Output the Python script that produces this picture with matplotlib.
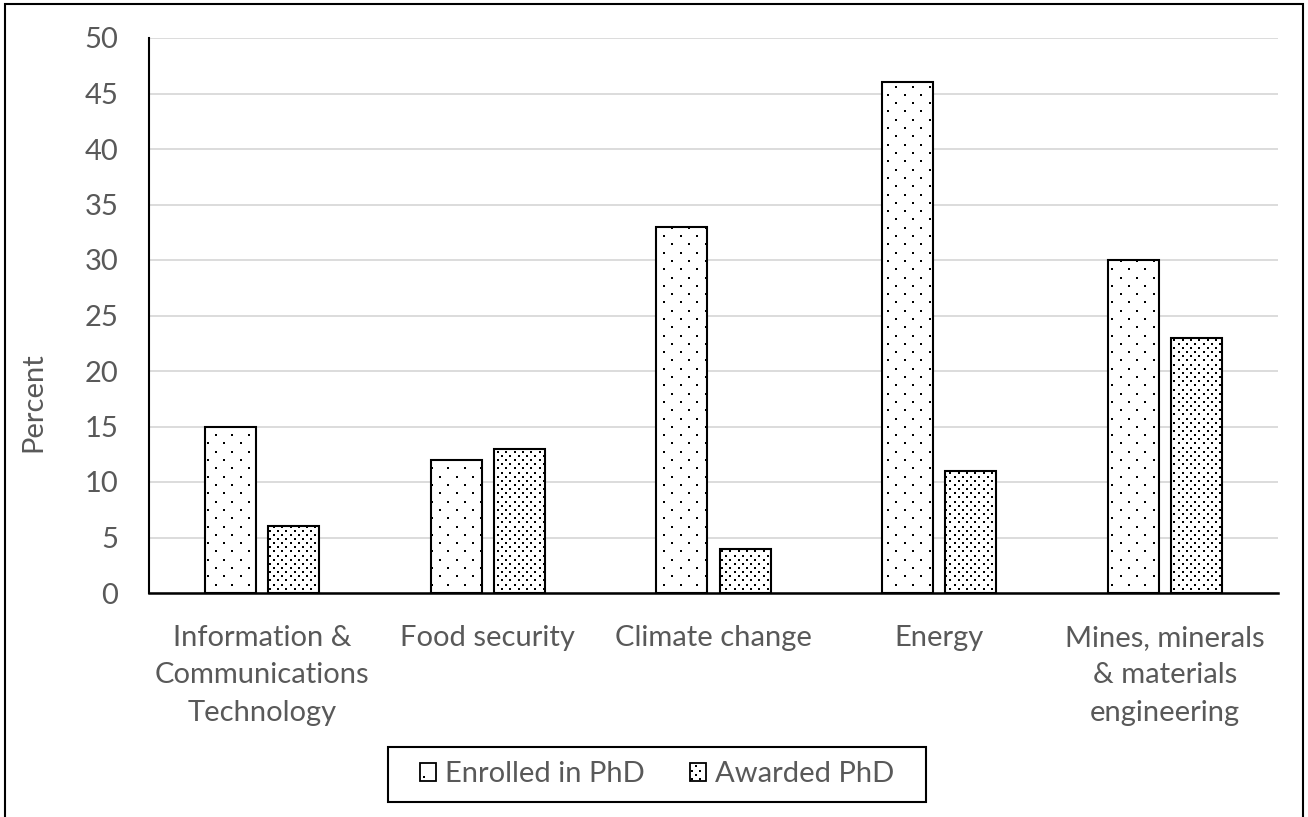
import matplotlib
matplotlib.use("Agg")
import matplotlib.pyplot as plt
import numpy as np
from matplotlib.patches import Rectangle
from matplotlib.lines import Line2D
from matplotlib.legend_handler import HandlerBase

categories = ["Information &\nCommunications\nTechnology", "Food security",
              "Climate change", "Energy", "Mines, minerals\n& materials\nengineering"]
enrolled = [15, 12, 33, 46, 30]
awarded = [6, 13, 4, 11, 23]
series_names = ["Enrolled in PhD", "Awarded PhD"]
y_ticks = [0, 5, 10, 15, 20, 25, 30, 35, 40, 45, 50]

plt.rcParams['font.family'] = ['Lato', 'DejaVu Sans']
text_color = "#595959"
FS = 21

W, H, DPI = 13.08, 8.17, 100
fig = plt.figure(figsize=(W, H), dpi=DPI)


def fx(px):
    return px / (W * DPI)


def fy(py):
    return 1 - py / (H * DPI)


def stagger_grid(width, height, step, x0=0.0, y0=0.0):
    """Staggered dot positions: rows step/2 apart, dots step apart within a row."""
    dx, dy = step, step / 2
    xs, ys = [], []
    for k, yy in enumerate(np.arange(y0, y0 + height + 1e-9, dy)):
        cols = np.arange(x0 + (k % 2) * dx / 2, x0 + width + 1e-9, dx)
        xs.append(cols)
        ys.append(np.full_like(cols, yy))
    return np.concatenate(xs), np.concatenate(ys)


ax = fig.add_axes([fx(149), fy(593), fx(1278 - 149), (593 - 38) / (H * DPI)])

x = np.arange(len(categories))
width = 0.226
offset = 0.14
b1 = ax.bar(x - offset, enrolled, width, facecolor="white", edgecolor="black",
            linewidth=1.5, zorder=3)
b2 = ax.bar(x + offset, awarded, width, facecolor="white", edgecolor="black",
            linewidth=1.5, zorder=3)

STEP_ENROLLED, STEP_AWARDED = 16.6, 8.3   # dot spacing in pixels


def dot_fill(bars, step):
    xs, ys = stagger_grid(W * DPI, H * DPI, step)
    for bar in bars:
        ln, = ax.plot(xs / DPI, ys / DPI, ls="none", marker="s", ms=1.45, mew=0,
                      color="black", transform=fig.dpi_scale_trans, zorder=3.2)
        ln.set_clip_path(bar)


dot_fill(b1, STEP_ENROLLED)
dot_fill(b2, STEP_AWARDED)

ax.set_xlim(-0.5, len(categories) - 0.5)
ax.set_ylim(0, 50)
ax.set_yticks(y_ticks)
ax.yaxis.grid(True, color="#d9d9d9", linewidth=1.3, zorder=0)
ax.set_axisbelow(True)
for s in ["top", "right"]:
    ax.spines[s].set_visible(False)
ax.spines["left"].set_linewidth(1.5)
ax.spines["bottom"].set_linewidth(1.8)
ax.tick_params(axis="both", length=0, labelsize=FS, labelcolor=text_color)
ax.tick_params(axis="y", pad=22)
ax.tick_params(axis="x", pad=23)
ax.set_xticks(x)
ax.set_xticklabels(categories, linespacing=1.55)
ax.set_ylabel("Percent", fontsize=FS, color=text_color)
ax.yaxis.set_label_coords((46 - 149) / 1129, (593 - 402) / 555)


class DotKey(HandlerBase):
    """Legend key: white square with the series' dot texture."""

    def __init__(self, step_px):
        super().__init__()
        self.step = step_px * 72 / DPI

    def create_artists(self, legend, orig_handle, xdescent, ydescent,
                       width, height, fontsize, trans):
        x0, y0 = -xdescent, -ydescent
        box = Rectangle((x0, y0), width, height, facecolor="white",
                        edgecolor="black", lw=1.3, transform=trans)
        m = self.step / 4
        xs, ys = stagger_grid(width - 2 * m, height - 2 * m, self.step,
                              x0 + m, y0 + m)
        dots = Line2D(xs, ys, ls="none", marker="s", ms=1.45, mew=0,
                      color="black", transform=trans)
        return [box, dots]


h1 = Rectangle((0, 0), 1, 1)
h2 = Rectangle((0, 0), 1.01, 1)
leg = fig.legend(handles=[h1, h2], labels=series_names, loc="center",
                 bbox_to_anchor=(fx(657), fy(774.5)), ncol=2, frameon=False,
                 fontsize=FS, handlelength=0.55, handleheight=0.55,
                 handletextpad=0.3, columnspacing=1.55, borderpad=0.5,
                 borderaxespad=0,
                 handler_map={h1: DotKey(STEP_ENROLLED), h2: DotKey(STEP_AWARDED)})
for t in leg.get_texts():
    t.set_color(text_color)

# legend box
fig.patches.append(Rectangle((fx(388), fy(802)), fx(926 - 388), (802 - 747) / (H * DPI),
                             transform=fig.transFigure, fill=False,
                             edgecolor="black", linewidth=1.5))

# outer border of the chart area
fig.patches.append(Rectangle((fx(5), -0.05), fx(1303 - 5), 1.05 - 4 / (H * DPI),
                             transform=fig.transFigure, fill=False,
                             edgecolor="black", linewidth=1.5))

fig.savefig("out.png", dpi=DPI)
